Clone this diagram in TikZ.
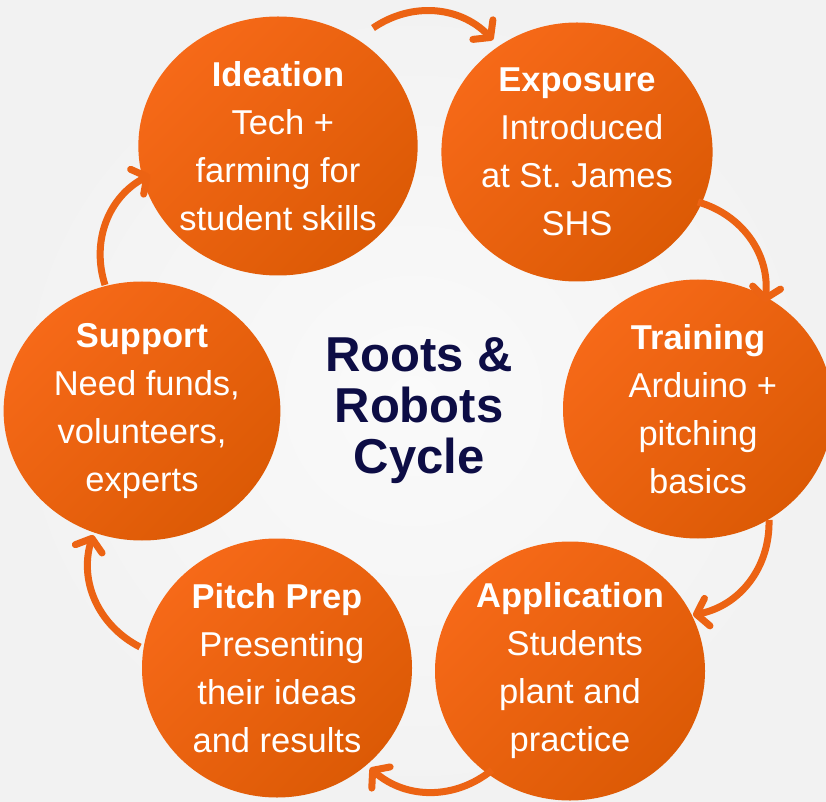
\documentclass[tikz,border=0pt]{standalone}
\usepackage{fontspec}
\setmainfont{Liberation Sans}
\usetikzlibrary{shapes.geometric,arrows.meta}
\definecolor{bgc}{HTML}{F2F2F2}
\definecolor{bgl}{HTML}{FAFAFA}
\definecolor{olight}{HTML}{F66918}
\definecolor{odark}{HTML}{DC5A05}
\definecolor{arr}{HTML}{EC6313}
\definecolor{navy}{HTML}{0D0D45}
\begin{document}
\begin{tikzpicture}[x=1pt,y=1pt,
  stage/.style={ellipse, minimum width=270pt, minimum height=259pt, inner sep=0pt,
    top color=olight, bottom color=odark, shading angle=45, draw=none,
    text=white, align=center, font=\fontsize{34.5}{48}\selectfont},
  flow/.style={draw=arr, line width=7pt, -{Straight Barb[length=11pt,width=28pt,round]}},
  ttl/.style={text=navy, align=center, font=\bfseries\fontsize{49}{51}\selectfont}]
\useasboundingbox (0,0) rectangle (826,801);
\shade[inner color=bgl, outer color=bgc] (0,0) rectangle (826,801);

\node[stage] (ide) at (278,655) {\textbf{Ideation}\\\hspace*{.28em}Tech +\\farming for\\student skills};
\node[stage] (exp) at (577,649) {\textbf{Exposure}\\\hspace*{.28em}Introduced\\at St.\ James\\SHS};
\node[stage] (tra) at (698,392) {\textbf{Training}\\\hspace*{.28em}Arduino +\\pitching\\basics};
\node[stage] (app) at (570,130) {\textbf{Application}\\\hspace*{.28em}Students\\plant and\\practice};
\node[stage] (pit) at (277,133) {\textbf{Pitch Prep}\\\hspace*{.28em}Presenting\\their ideas\\and results};
\node[stage] (sup) at (142,390) {\textbf{Support}\\\hspace*{.28em}Need funds,\\volunteers,\\experts};

\node[ttl] (title) at (419,390) {Roots \&\\Robots\\Cycle};

\coordinate (a1s) at (373,773); \coordinate (a1e) at (493,761);
\coordinate (a2s) at (698,599); \coordinate (a2e) at (765,499);
\coordinate (a3s) at (769,281); \coordinate (a3e) at (693,186);
\coordinate (a4s) at (492,31);  \coordinate (a4e) at (370,33);
\coordinate (a5s) at (140,154); \coordinate (a5e) at (93,266);
\coordinate (a6s) at (105,516); \coordinate (a6e) at (150,626);

\draw[flow] (a1s) to[bend left=40] (a1e);
\draw[flow] (a2s) to[bend left=40] (a2e);
\draw[flow] (a3s) to[bend left=40] (a3e);
\draw[flow] (a4s) to[bend left=40] (a4e);
\draw[flow] (a5s) to[bend left=40] (a5e);
\draw[flow] (a6s) to[bend left=40] (a6e);
\end{tikzpicture}
\end{document}
